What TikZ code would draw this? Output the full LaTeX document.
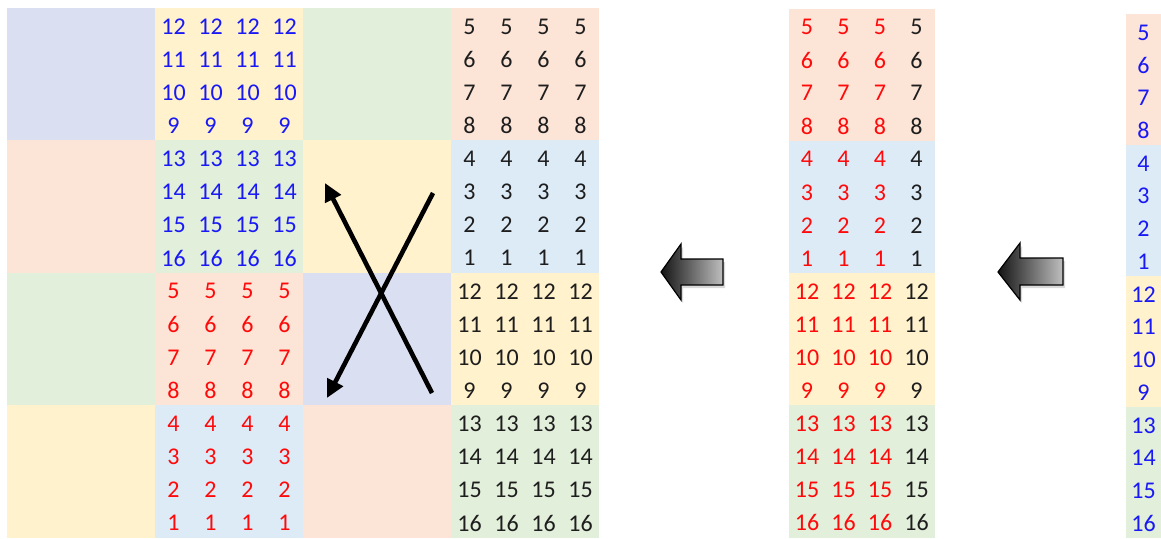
\documentclass[tikz,border=0pt]{standalone}
\usepackage{fontspec}
\setmainfont{Carlito}
\usetikzlibrary{arrows.meta,shadows}
\definecolor{lav}{RGB}{218,224,242}
\definecolor{yel}{RGB}{255,242,204}
\definecolor{grn}{RGB}{226,239,218}
\definecolor{pch}{RGB}{252,228,214}
\definecolor{lbl}{RGB}{221,235,247}
\definecolor{numblue}{RGB}{25,25,245}
\definecolor{numred}{RGB}{255,10,10}
\definecolor{numblack}{RGB}{30,30,30}
\tikzset{cell/.style={inner sep=0pt, font=\fontsize{24}{28}\selectfont},
  cross/.style={line width=4.6pt, -{Triangle[length=18pt,width=17pt]}},
  bigarrow/.style={draw=black, line width=1.2pt, line join=miter,
    left color=black!92, right color=black!25,
    drop shadow={opacity=0.3, shadow xshift=2pt, shadow yshift=-3pt}}}

\begin{document}
\begin{tikzpicture}[x=1pt, y=-1pt]
\useasboundingbox (0,0) rectangle (1161,538);

% left 4x4 grid of blocks
\foreach \c/\r/\f in {0/0/lav, 1/0/yel, 2/0/grn, 3/0/pch,
                      0/1/pch, 1/1/grn, 2/1/yel, 3/1/lbl,
                      0/2/grn, 1/2/pch, 2/2/lav, 3/2/yel,
                      0/3/yel, 1/3/lbl, 2/3/pch, 3/3/grn}
  \fill[\f] ({7+148*\c}, {8+132.4*\r}) rectangle ++(148,132.4);

\foreach \c/\r/\vals/\col in {1/0/{12,11,10,9}/numblue, 3/0/{5,6,7,8}/numblack,
                              1/1/{13,14,15,16}/numblue, 3/1/{4,3,2,1}/numblack,
                              1/2/{5,6,7,8}/numred, 3/2/{12,11,10,9}/numblack,
                              1/3/{4,3,2,1}/numred, 3/3/{13,14,15,16}/numblack}
  \foreach \v [count=\j from 0] in \vals
    \foreach \i in {0,...,3}
      \node[cell, text=\col] (L\c\r\i\j) at ({7+148*\c+18.5+37*\i}, {8+132.4*\r+16.5+33.1*\j+2}) {\v};

% crossing arrows
\coordinate (up1) at (432,393);
\coordinate (up2) at (325,183);
\coordinate (dn1) at (433,193);
\coordinate (dn2) at (327,398);
\draw[cross] (up1) -- (up2);
\draw[cross] (dn1) -- (dn2);

% middle column
\foreach \g/\f in {0/pch, 1/lbl, 2/yel, 3/grn}
  \fill[\f] (789, {8.5+132.25*\g}) rectangle ++(146,132.25);
\foreach \v [count=\j from 0] in {5,6,7,8,4,3,2,1,12,11,10,9,13,14,15,16} {
  \foreach \i in {0,1,2}
    \node[cell, text=numred] (M\i-\j) at ({807+36.5*\i}, {8.5+16.5+33.06*\j+2}) {\v};
  \node[cell, text=numblack] (M3-\j) at (916.5, {8.5+16.5+33.06*\j+2}) {\v};
}

% right column
\foreach \g/\f in {0/pch, 1/lbl, 2/yel, 3/grn}
  \fill[\f] (1126, {14+131*\g}) rectangle ++(37,131);
\foreach \v [count=\j from 0] in {5,6,7,8,4,3,2,1,12,11,10,9,13,14,15,16}
  \node[cell, text=numblue] (R\j) at (1143.5, {14+16.4+32.75*\j+2}) {\v};

% block arrows
\path[bigarrow] (661,272) -- (681,244) -- (681,259) -- (723,259) -- (723,285)
  -- (681,285) -- (681,300) -- cycle;
\path[bigarrow] (998,272) -- (1020,243) -- (1020,258) -- (1063,258) -- (1063,285)
  -- (1020,285) -- (1020,300) -- cycle;
\end{tikzpicture}
\end{document}
